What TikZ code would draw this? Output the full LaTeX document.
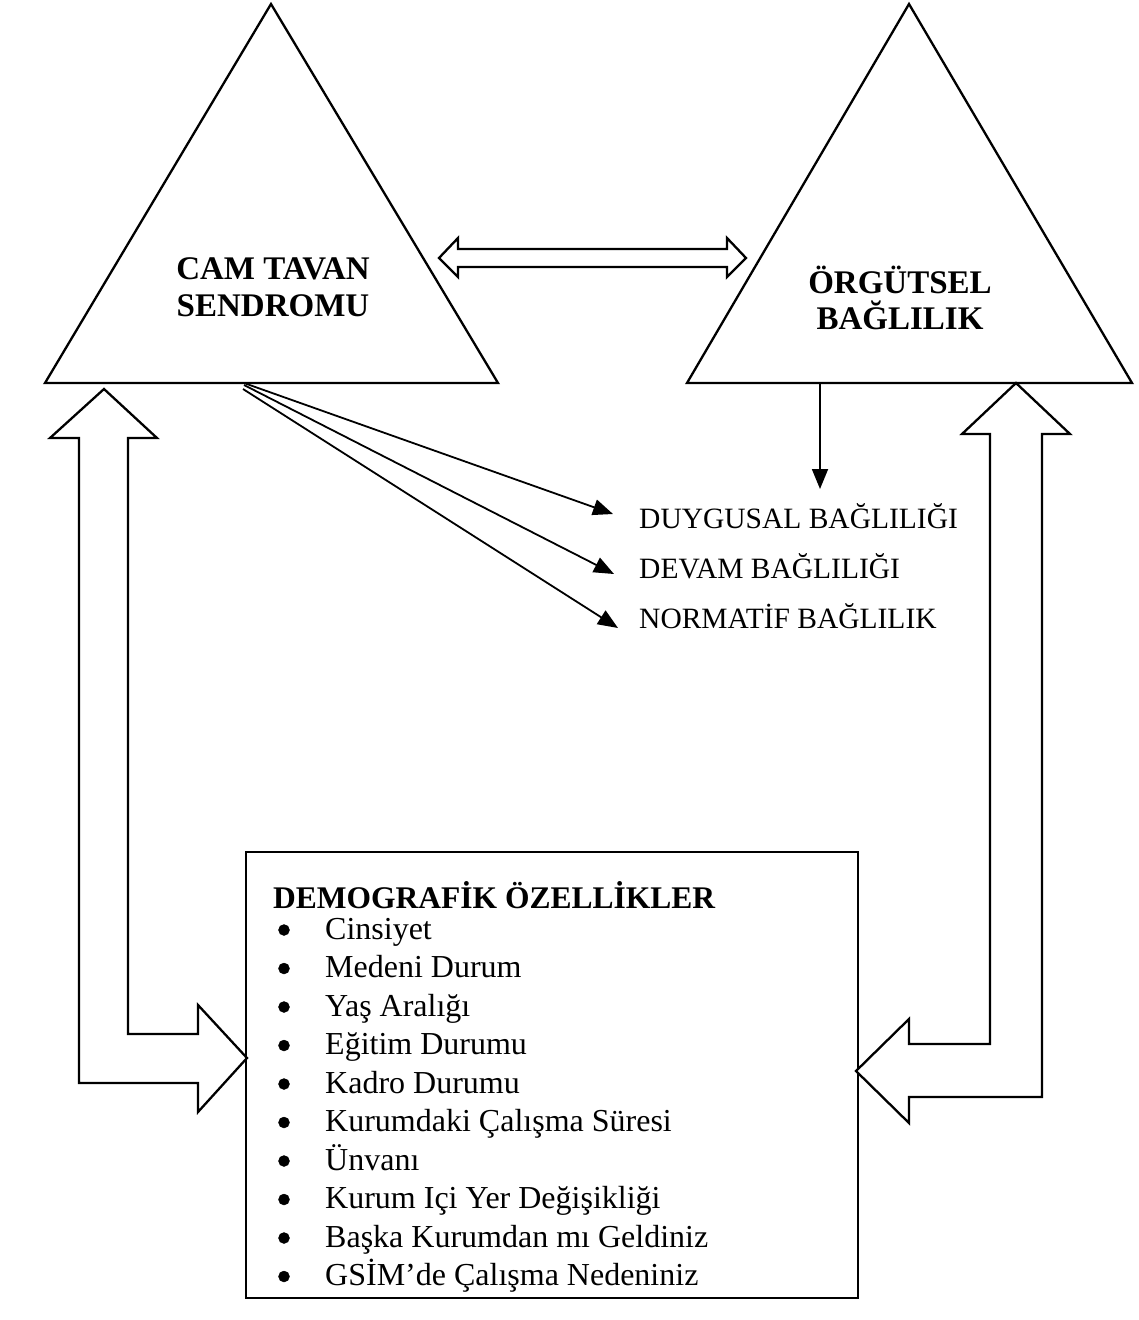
\documentclass[tikz,border=0pt]{standalone}
\usepackage{fontspec}
\setmainfont{Liberation Serif}
\usetikzlibrary{arrows.meta}
\tikzset{
  shape line/.style={draw=black, line width=2.3pt, line join=miter},
  block/.style={draw=black, line width=2.3pt, fill=white, line join=miter},
  thin arrow/.style={draw=black, line width=1.8pt, -{Triangle[length=20pt,width=16pt]}},
  title text/.style={font=\fontsize{33}{38}\selectfont\bfseries, align=center, inner sep=0pt},
  label text/.style={font=\fontsize{29.5}{34}\selectfont, anchor=base west, inner sep=0pt},
  item text/.style={font=\fontsize{32}{36}\selectfont, anchor=base west, inner sep=0pt},
  bulletdot/.style={circle, fill=black, draw=black, minimum size=11pt, inner sep=0pt},
}
\begin{document}
\begin{tikzpicture}[x=1pt,y=-1pt]
\useasboundingbox (0,0) rectangle (1139,1320);

% left triangle
\coordinate (LA) at (271,4);
\coordinate (LL) at (45,383);
\coordinate (LR) at (498,383);
\draw[shape line] (LA) -- (LL) -- (LR) -- cycle;

% right triangle
\coordinate (RA) at (909,4);
\coordinate (RL) at (687,383);
\coordinate (RR) at (1132,383);
\draw[shape line] (RA) -- (RL) -- (RR) -- cycle;

\node[title text, anchor=base] (cam1) at (273,279) {CAM TAVAN};
\node[title text, anchor=base] (cam2) at (273,316) {SENDROMU};
\node[title text, anchor=base] (org1) at (900,293) {ÖRGÜTSEL};
\node[title text, anchor=base] (org2) at (900,329) {BAĞLILIK};

% horizontal double block arrow
\draw[block] (439,258) -- (458,238) -- (458,249) -- (727,249) -- (727,238)
  -- (746,258) -- (727,277) -- (727,267) -- (458,267) -- (458,277) -- cycle;

% labels
\node[label text] (duy) at (639,528) {DUYGUSAL BAĞLILIĞI};
\node[label text] (dev) at (639,578) {DEVAM BAĞLILIĞI};
\node[label text] (nor) at (639,628) {NORMATİF BAĞLILIK};

% connectors
\coordinate (s1) at (244,383);
\coordinate (s2) at (244,385);
\coordinate (s3) at (243,389);
\coordinate (t1) at (613,514);
\coordinate (t2) at (614,574);
\coordinate (t3) at (618,628);
\draw[thin arrow] (s1) -- (t1);
\draw[thin arrow] (s2) -- (t2);
\draw[thin arrow] (s3) -- (t3);
\coordinate (sd) at (820,383);
\coordinate (td) at (820,489);
\draw[thin arrow] (sd) -- (td);

% box
\node[draw=black, line width=2.3pt, minimum width=612pt, minimum height=446pt, anchor=north west, inner sep=0pt] (box) at (245,851) {};
\node[anchor=base west, inner sep=0pt, font=\fontsize{31.5}{36}\selectfont\bfseries] (demo) at (273,908) {DEMOGRAFİK ÖZELLİKLER};
\foreach \y/\t [count=\i] in {939/Cinsiyet, 977.5/Medeni Durum, 1016/Yaş Aralığı,
  1054.5/Eğitim Durumu, 1093/Kadro Durumu, 1131.5/Kurumdaki Çalışma Süresi,
  1170/Ünvanı, 1208.5/Kurum Içi Yer Değişikliği, 1247/Başka Kurumdan mı Geldiniz,
  1285.5/GSİM’de Çalışma Nedeniniz}{
  \node[bulletdot] (b\i) at (284,\y-9) {};
  \node[item text] (i\i) at (325,\y) {\t};
}

% left L-shaped block arrow
\draw[block] (104,389) -- (157,438) -- (128,438) -- (128,1034) -- (198,1034)
  -- (198,1005) -- (247,1058) -- (198,1112) -- (198,1083) -- (79,1083)
  -- (79,438) -- (50,438) -- cycle;

% right L-shaped block arrow
\draw[block] (1016,383) -- (1070,434) -- (1042,434) -- (1042,1097) -- (909,1097)
  -- (909,1123) -- (856,1071) -- (909,1019) -- (909,1044) -- (990,1044)
  -- (990,434) -- (962,434) -- cycle;
\end{tikzpicture}
\end{document}
